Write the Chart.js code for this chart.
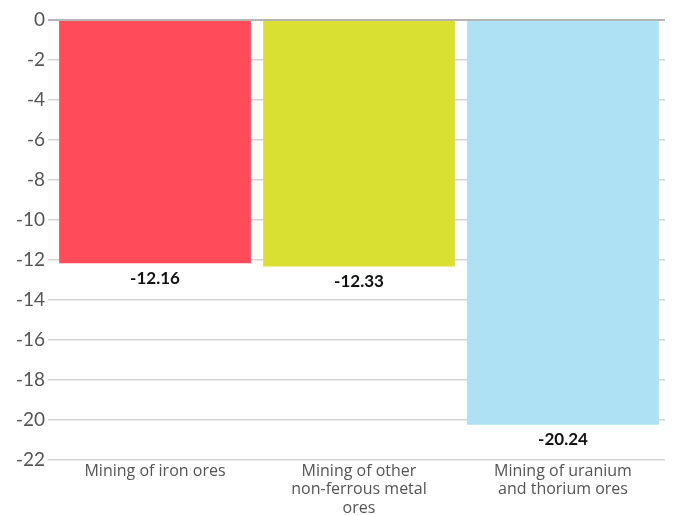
<!DOCTYPE html>
<html>
<head>
<meta charset="utf-8">
<script src="https://cdn.jsdelivr.net/npm/chart.js@4"></script>
<style>
  html, body { margin: 0; padding: 0; background: #fff; }
  #wrap { width: 675px; height: 515px; }
</style>
</head>
<body>
<div id="wrap"><canvas id="chart" width="675" height="515"></canvas></div>
<script>
// data
const categories = [
  "Mining of iron ores",
  ["Mining of other", "non-ferrous metal", "ores"],
  ["Mining of uranium", "and thorium ores"]
];
const values = [-12.16, -12.33, -20.24];
const barColors = ["#ff4b5a", "#d9e031", "#ade1f3"];
const yTicks = [0, -2, -4, -6, -8, -10, -12, -14, -16, -18, -20, -22];

// value labels under each bar
const valueLabels = {
  id: "valueLabels",
  afterDatasetsDraw(chart) {
    const ctx = chart.ctx;
    const meta = chart.getDatasetMeta(0);
    ctx.save();
    ctx.font = "bold 17px Lato, 'Open Sans', sans-serif";
    ctx.fillStyle = "#111";
    ctx.textAlign = "center";
    ctx.textBaseline = "middle";
    meta.data.forEach(function(bar, i) {
      ctx.fillText(values[i].toFixed(2), bar.x, bar.y + 15);
    });
    ctx.restore();
  }
};

new Chart(document.getElementById("chart"), {
  type: "bar",
  data: {
    labels: categories,
    datasets: [{
      data: values,
      backgroundColor: barColors,
      barPercentage: 0.94,
      categoryPercentage: 1.0
    }]
  },
  options: {
    responsive: false,
    animation: false,
    layout: { padding: { top: 20, right: 10, left: 0, bottom: 0 } },
    plugins: {
      legend: { display: false },
      tooltip: { enabled: false }
    },
    scales: {
      x: {
        position: "bottom",
        grid: { display: false, drawTicks: false },
        border: { display: false },
        ticks: {
          color: "#555",
          font: { family: "'Open Sans', Lato, sans-serif", size: 16, lineHeight: 1.15 },
          maxRotation: 0,
          padding: 2
        },
        afterFit: function(scale) { scale.height = 55; }
      },
      y: {
        min: -22,
        max: 0,
        afterBuildTicks: function(scale) {
          scale.ticks = yTicks.map(function(v) { return { value: v }; });
        },
        grid: {
          color: function(c) { return c.tick && c.tick.value === 0 ? "#b5b5b5" : "#d6d6d6"; },
          lineWidth: function(c) { return c.tick && c.tick.value === 0 ? 2 : 1.5; },
          tickLength: 5
        },
        border: { display: false },
        ticks: {
          color: "#555",
          font: { family: "Lato, 'Open Sans', sans-serif", size: 19 },
          padding: 3
        },
        afterFit: function(scale) { scale.width = 53; }
      }
    }
  },
  plugins: [valueLabels]
});
</script>
</body>
</html>
